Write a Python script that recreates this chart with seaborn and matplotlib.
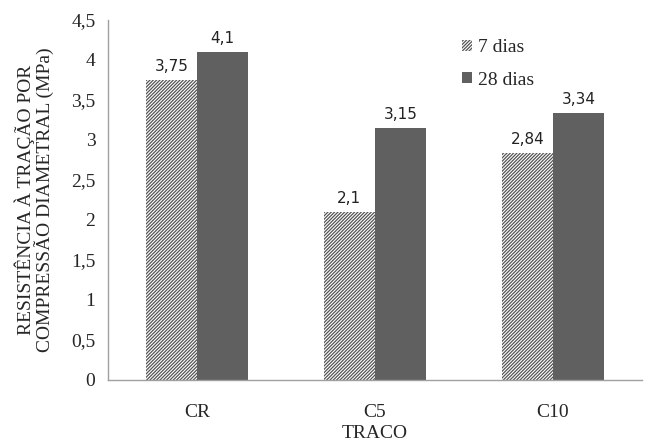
import matplotlib
matplotlib.use("Agg")
import matplotlib.pyplot as plt
import seaborn as sns
import pandas as pd
from matplotlib.patches import Patch

tracos = ["CR", "C5", "C10"]
series = ["7 dias", "28 dias"]
valores_7 = [3.75, 2.10, 2.84]
valores_28 = [4.10, 3.15, 3.34]
rotulos_7 = ["3,75", "2,1", "2,84"]
rotulos_28 = ["4,1", "3,15", "3,34"]
yticks = [0, 0.5, 1, 1.5, 2, 2.5, 3, 3.5, 4, 4.5]

df = pd.DataFrame({
    "traco": tracos * 2,
    "idade": [series[0]] * 3 + [series[1]] * 3,
    "valor": valores_7 + valores_28,
})

sns.set_style("white")
plt.rcParams["font.family"] = ["Liberation Serif", "DejaVu Serif"]
plt.rcParams["hatch.linewidth"] = 0.9

fig = plt.figure(figsize=(6.46, 4.45), dpi=100)
ax = fig.add_axes([108 / 646, (445 - 380) / 445, 534 / 646, 360 / 445])

cor_7 = "#ffffff"
cor_28 = "#606060"
hatch_7 = "//////////"
sns.barplot(data=df, x="traco", y="valor", hue="idade", order=tracos,
            hue_order=series, palette=[cor_7, cor_28], width=0.575,
            saturation=1, ax=ax, legend=False, edgecolor="none")

n = len(tracos)
patches_7 = ax.patches[:n]
patches_28 = ax.patches[n:2 * n]
for p in patches_7:
    p.set_hatch(hatch_7)
    p.set_edgecolor("#555555")
    p.set_linewidth(0)

for p, txt in zip(patches_7, rotulos_7):
    ax.text(p.get_x() + p.get_width() / 2, p.get_height() + 0.07, txt,
            ha="center", va="bottom", fontsize=11, family="DejaVu Sans",
            color="#222222")
for p, txt in zip(patches_28, rotulos_28):
    ax.text(p.get_x() + p.get_width() / 2, p.get_height() + 0.07, txt,
            ha="center", va="bottom", fontsize=11, family="DejaVu Sans",
            color="#222222")

ax.set_ylim(0, 4.5)
ax.set_xlim(-0.5, n - 0.5)
ax.set_yticks(yticks)
ax.set_yticklabels([f"{v:g}".replace(".", ",") for v in yticks], fontsize=14)
ax.set_xticks(range(n))
ax.set_xticklabels(tracos, fontsize=14)
ax.set_xticks([i + 0.5 for i in range(n)], minor=True)
ax.tick_params(axis="x", which="major", length=0, pad=17)
ax.tick_params(axis="x", which="minor", length=5, color="#a0a0a0", width=1)
ax.tick_params(axis="y", length=5, color="#a0a0a0", width=1, pad=4,
               direction="out")

for s in ["top", "right"]:
    ax.spines[s].set_visible(False)
for s in ["left", "bottom"]:
    ax.spines[s].set_color("#a0a0a0")
    ax.spines[s].set_linewidth(1)

ax.set_xlabel("TRACO", fontsize=14, labelpad=3)
ax.set_ylabel("RESISTÊNCIA À TRAÇÃO POR\nCOMPRESSÃO DIAMETRAL (MPa)",
              fontsize=14, labelpad=12, linespacing=1.0)

handles = [
    Patch(facecolor=cor_7, edgecolor="#555555", hatch=hatch_7,
          linewidth=0, label=series[0]),
    Patch(facecolor=cor_28, edgecolor="none", label=series[1]),
]
ax.legend(handles=handles, loc="upper left", bbox_to_anchor=(0.63, 0.995),
          frameon=False, fontsize=14, handlelength=0.5, handleheight=0.5,
          handletextpad=0.35, labelspacing=0.8)

fig.savefig("out.png", dpi=100)
